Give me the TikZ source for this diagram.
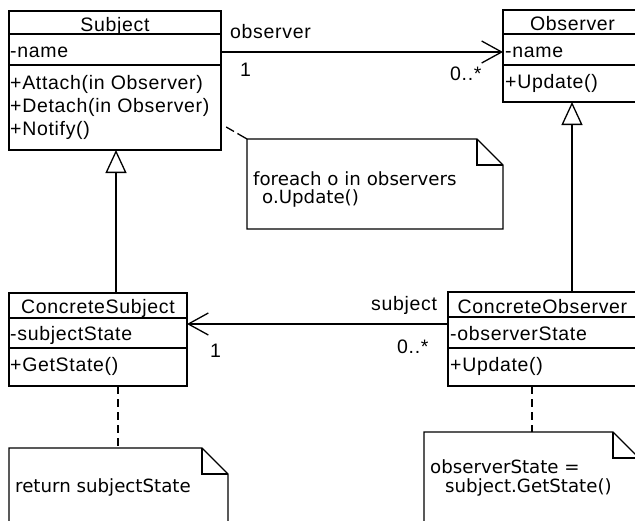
\documentclass[tikz,border=0pt]{standalone}
\usepackage{fontspec}
\newfontfamily\cfont[LetterSpace=3.5]{Liberation Sans}
\newfontfamily\nfont{DejaVu Sans}
\usetikzlibrary{arrows.meta}
\begin{document}
\begin{tikzpicture}[x=1pt,y=-1pt,
  cbox/.style={draw, line width=1.3pt, inner sep=0pt, outer sep=0pt, anchor=north west},
  ctext/.style={font=\cfont\fontsize{19.5pt}{19.5pt}\selectfont, inner sep=0pt, anchor=base west},
  ntext/.style={font=\nfont\fontsize{18.2pt}{18pt}\selectfont, inner sep=0pt, anchor=base west},
  line/.style={line width=1.3pt},
  assoc/.style={line, -{Straight Barb[length=20pt,width=22pt,line width=1.3pt]}},
  inherit/.style={line, -{Triangle[open,length=23pt,width=21pt,line width=1.3pt]}},
  notelink/.style={line, dash pattern=on 8pt off 5pt},
  notebox/.style={inner sep=0pt, outer sep=0pt, anchor=north west}
]
\useasboundingbox (0,0) rectangle (635,520);
\clip (0,0) rectangle (635,520);
\fill[white] (0,0) rectangle (635,520);

% Subject
\node[cbox, minimum width=212pt, minimum height=23pt] (subjT) at (9,11) {};
\node[cbox, minimum width=212pt, minimum height=31pt] (subjA) at (subjT.south west) {};
\node[cbox, minimum width=212pt, minimum height=85pt] (subjM) at (subjA.south west) {};
\node[ctext, anchor=base] (tsubj) at (115,31) {Subject};
\node[ctext] (tsubja) at (10,57) {-name};
\node[ctext] (tsubjm1) at (10,89) {+Attach(in Observer)};
\node[ctext] (tsubjm2) at (10,112) {+Detach(in Observer)};
\node[ctext] (tsubjm3) at (10,135) {+Notify()};

% Observer
\node[cbox, minimum width=140pt, minimum height=24pt] (obsT) at (503,10) {};
\node[cbox, minimum width=140pt, minimum height=31pt] (obsA) at (obsT.south west) {};
\node[cbox, minimum width=140pt, minimum height=37pt] (obsM) at (obsA.south west) {};
\node[ctext, anchor=base] (tobs) at (572.5,30) {Observer};
\node[ctext] (tobsa) at (505,57) {-name};
\node[ctext] (tobsm) at (505,88) {+Update()};

% ConcreteSubject
\node[cbox, minimum width=178pt, minimum height=25pt] (csT) at (9,293) {};
\node[cbox, minimum width=178pt, minimum height=30pt] (csA) at (csT.south west) {};
\node[cbox, minimum width=178pt, minimum height=38pt] (csM) at (csA.south west) {};
\node[ctext, anchor=base] (tcs) at (98,313) {ConcreteSubject};
\node[ctext] (tcsa) at (10,340) {-subjectState};
\node[ctext] (tcsm) at (10,371) {+GetState()};

% ConcreteObserver
\node[cbox, minimum width=190pt, minimum height=25pt] (coT) at (448,292) {};
\node[cbox, minimum width=190pt, minimum height=31pt] (coA) at (coT.south west) {};
\node[cbox, minimum width=190pt, minimum height=38pt] (coM) at (coA.south west) {};
\node[ctext, anchor=base] (tco) at (542.5,313) {ConcreteObserver};
\node[ctext] (tcoa) at (450,340) {-observerState};
\node[ctext] (tcom) at (450,371) {+Update()};

% associations
\coordinate (y1) at (0,52);
\draw[assoc] (subjA.east |- y1) -- (obsA.west |- y1);
\node[ctext] (lobs) at (230,38) {observer};
\node[ctext] (m1) at (240,76) {1};
\node[ctext] (m2) at (450,80) {0..*};

\coordinate (y2) at (0,324);
\draw[assoc] (coA.west |- y2) -- (csA.east |- y2);
\node[ctext] (lsub) at (371,310) {subject};
\node[ctext] (m3) at (210,357) {1};
\node[ctext] (m4) at (397,353) {0..*};

% generalizations
\coordinate (x1) at (116,0);
\draw[inherit] (csT.north -| x1) -- (subjM.south -| x1);
\coordinate (x2) at (572,0);
\draw[inherit] (coT.north -| x2) -- (obsM.south -| x2);

% note 1
\node[notebox, minimum width=256pt, minimum height=90pt] (n1) at (247,139) {};
\draw[line] (n1.south west) -- (n1.north west) -- ([xshift=-26pt]n1.north east) -- ([yshift=-26pt]n1.north east) -- (n1.south east) -- cycle;
\draw[line] ([xshift=-26pt]n1.north east) -- ([xshift=-26pt,yshift=-26pt]n1.north east) -- ([yshift=-26pt]n1.north east);
\node[ntext] (tn1a) at (253,185) {foreach o in observers};
\node[ntext] (tn1b) at (262,203) {o.Update()};
\coordinate (c1) at (0,124);
\draw[line, dash pattern=on 0pt off 6pt on 9pt off 4pt on 14pt] (subjM.east |- c1) -- (n1.north west);

% note 2
\node[notebox, minimum width=219pt, minimum height=100pt] (n2) at (9,448) {};
\draw[line] (n2.south west) -- (n2.north west) -- ([xshift=-26pt]n2.north east) -- ([yshift=-26pt]n2.north east) -- (n2.south east);
\draw[line] ([xshift=-26pt]n2.north east) -- ([xshift=-26pt,yshift=-26pt]n2.north east) -- ([yshift=-26pt]n2.north east);
\node[ntext] (tn2) at (15,492) {return subjectState};
\coordinate (x3) at (118,0);
\draw[notelink] (csM.south -| x3) -- (n2.north -| x3);

% note 3
\node[notebox, minimum width=215pt, minimum height=100pt] (n3) at (424,432) {};
\draw[line] (n3.south west) -- (n3.north west) -- ([xshift=-26pt]n3.north east) -- ([yshift=-26pt]n3.north east) -- (n3.south east);
\draw[line] ([xshift=-26pt]n3.north east) -- ([xshift=-26pt,yshift=-26pt]n3.north east) -- ([yshift=-26pt]n3.north east);
\node[ntext] (tn3a) at (430,473) {observerState =};
\node[ntext] (tn3b) at (445,492) {subject.GetState()};
\coordinate (x4) at (532,0);
\draw[notelink] (coM.south -| x4) -- (n3.north -| x4);
\end{tikzpicture}
\end{document}
